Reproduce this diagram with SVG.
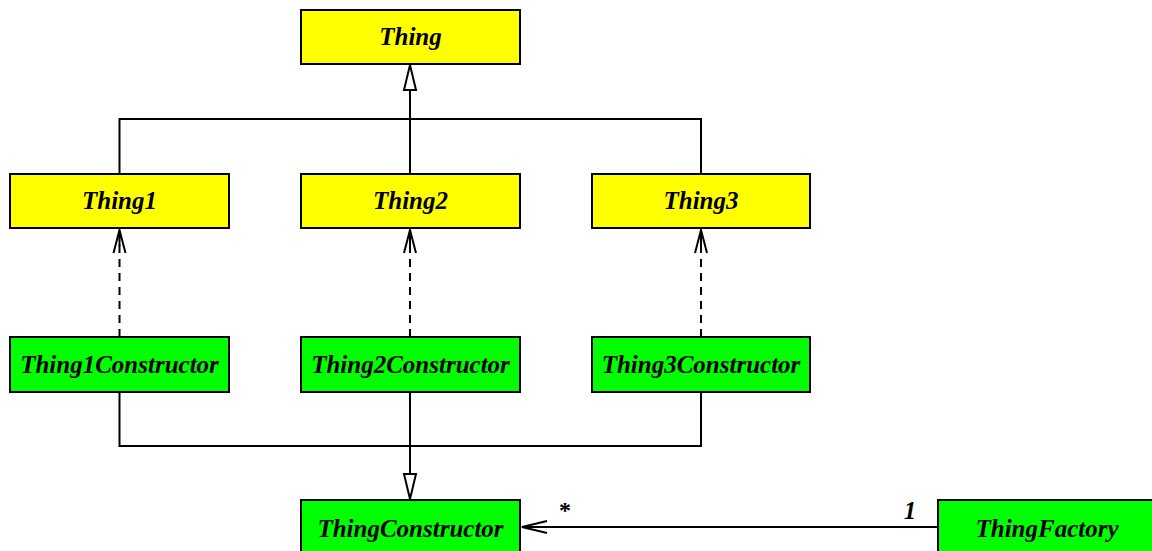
<svg xmlns="http://www.w3.org/2000/svg" width="1152" height="551" viewBox="0 0 1152 551">
<style>
.y{fill:#ffff00;stroke:#000;stroke-width:2}
.g{fill:#00ff00;stroke:#000;stroke-width:2}
text{font-family:"Liberation Serif","Times New Roman",serif;font-weight:bold;font-style:italic;font-size:25px;text-anchor:middle;fill:#000}
.l{fill:none;stroke:#000;stroke-width:2}
.d{fill:none;stroke:#000;stroke-width:2;stroke-dasharray:8,6}
.h{fill:#fff;stroke:#000;stroke-width:2}
</style>
<rect width="1152" height="551" fill="#fff"/>
<g id="connectors">
<path class="l" d="M119.5,173 V119 H701 V173 M410,173 V90"/>
<polygon class="h" points="410,65 404,90 416,90"/>
<path class="d" d="M119.5,337 V240"/>
<path class="l" d="M113.5,253 L119.5,230 L125.5,253 M119.5,230 V246"/>
<path class="d" d="M410,337 V240"/>
<path class="l" d="M404,253 L410,230 L416,253 M410,230 V246"/>
<path class="d" d="M701,337 V240"/>
<path class="l" d="M695,253 L701,230 L707,253 M701,230 V246"/>
<path class="l" d="M119.5,392 V446 H701 V392 M410,392 V474"/>
<polygon class="h" points="410,499 404,474 416,474"/>
<path class="l" d="M938,527 H522 M547,521 L522,527 L547,533"/>
<text x="565" y="518" style="font-style:normal;font-size:24px">*</text>
<text x="910" y="519">1</text>
</g>
<g id="Thing"><rect class="y" x="301" y="10" width="219" height="54"/><text x="410.5" y="45">Thing</text></g>
<g id="Thing1"><rect class="y" x="10" y="174" width="219" height="54"/><text x="119.5" y="209">Thing1</text></g>
<g id="Thing2"><rect class="y" x="301" y="174" width="219" height="54"/><text x="410.5" y="209">Thing2</text></g>
<g id="Thing3"><rect class="y" x="592" y="174" width="218" height="54"/><text x="701" y="209">Thing3</text></g>
<g id="Thing1Constructor"><rect class="g" x="10" y="337" width="219" height="55"/><text x="119.5" y="373">Thing1Constructor</text></g>
<g id="Thing2Constructor"><rect class="g" x="301" y="337" width="219" height="55"/><text x="410.5" y="373">Thing2Constructor</text></g>
<g id="Thing3Constructor"><rect class="g" x="592" y="337" width="218" height="55"/><text x="701" y="373">Thing3Constructor</text></g>
<g id="ThingConstructor"><rect class="g" x="301" y="500" width="219" height="55"/><text x="410.5" y="537">ThingConstructor</text></g>
<g id="ThingFactory"><rect class="g" x="938" y="500" width="219" height="55"/><text x="1047" y="537">ThingFactory</text></g>
</svg>
